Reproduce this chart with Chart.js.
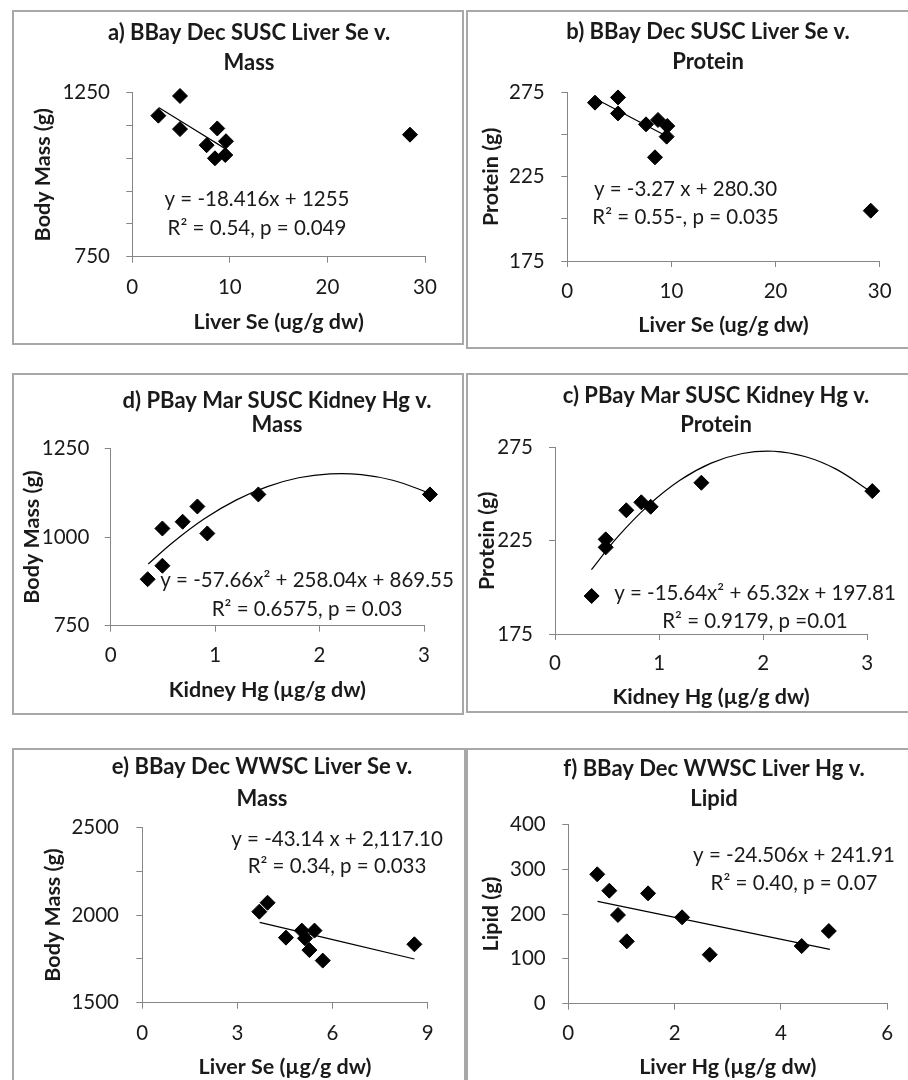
<!DOCTYPE html>
<html>
<head>
<meta charset="utf-8">
<script src="https://cdn.jsdelivr.net/npm/chart.js@4.4.1/dist/chart.umd.min.js"></script>
<style>
  html, body { margin: 0; padding: 0; background: #fff; overflow: hidden; }
  #wrap { position: relative; width: 908px; height: 1080px; overflow: hidden; }
  .panel { position: absolute; box-sizing: border-box; border: 2px solid #a8a8a8; }
  canvas { position: absolute; }
</style>
</head>
<body>
<div id="wrap"></div>
<script>
// a) BBay Dec SUSC, liver Se vs body mass
const aLiverSe  = [2.67, 4.89, 4.89, 7.62, 8.71, 8.47, 9.60, 9.53, 28.46];
const aBodyMass = [1180, 1240, 1139, 1090, 1141, 1050, 1102, 1060, 1122];
const aFitX = [2.7, 9.6];
const aFitY = [1205, 1078];

// b) BBay Dec SUSC, liver Se vs protein
const bLiverSe = [2.66, 4.87, 4.87, 7.56, 8.71, 9.60, 9.54, 8.42, 29.14];
const bProtein = [269.1, 272.2, 262.7, 256.2, 258.8, 255.2, 248.9, 236.6, 204.9];
const bFitX = [2.66, 9.6];
const bFitY = [271.5, 249];

// d) PBay Mar SUSC, kidney Hg vs body mass
const dKidneyHg = [0.354, 0.495, 0.495, 0.689, 0.830, 0.925, 1.414, 3.057];
const dBodyMass = [881, 919, 1024, 1043, 1086, 1010, 1120, 1120];
const dFitX = [0.36, 0.6, 0.9, 1.2, 1.5, 1.8, 2.1, 2.4, 2.7, 3.06];
const dFitY = [924, 986, 1052, 1104, 1142, 1167, 1178, 1176, 1160, 1123];

// c) PBay Mar SUSC, kidney Hg vs protein
const cKidneyHg = [0.352, 0.487, 0.487, 0.685, 0.829, 0.919, 1.406, 3.048];
const cProtein = [195.4, 225.8, 221.5, 241.4, 245.7, 243.3, 256.2, 251.7];
const cFitX = [0.35, 0.6, 0.9, 1.2, 1.5, 1.8, 2.1, 2.4, 2.7, 3.03];
const cFitY = [209.5, 227.0, 244.2, 257.5, 266.7, 271.9, 273.1, 270.3, 263.5, 251.5];

// e) BBay Dec WWSC, liver Se vs body mass
const eLiverSe  = [3.69, 3.95, 4.53, 5.03, 5.13, 5.27, 5.43, 5.69, 8.58];
const eBodyMass = [2019, 2070, 1871, 1911, 1867, 1800, 1911, 1740, 1833];
const eFitX = [3.7, 8.58];
const eFitY = [1958, 1749];

// f) BBay Dec WWSC, liver Hg vs lipid
const fLiverHg = [0.545, 0.771, 0.934, 1.10, 1.50, 2.14, 2.66, 4.39, 4.90];
const fLipid   = [288.5, 252, 197.8, 139, 246, 192.6, 109.3, 128.6, 162];
const fFitX = [0.55, 4.92];
const fFitY = [228, 121];

// texts
const aTitle = ['a) BBay Dec SUSC Liver Se v.', 'Mass'];
const bTitle = ['b) BBay Dec SUSC Liver Se v.', 'Protein'];
const dTitle = ['d) PBay Mar SUSC Kidney Hg v.', 'Mass'];
const cTitle = ['c) PBay Mar SUSC Kidney Hg v.', 'Protein'];
const eTitle = ['e) BBay Dec WWSC Liver Se v.', 'Mass'];
const fTitle = ['f) BBay Dec WWSC Liver Hg v.', 'Lipid'];

const aEq = ['y = -18.416x + 1255', 'R² = 0.54, p = 0.049'];
const bEq = ['y = -3.27 x + 280.30', 'R² = 0.55-, p = 0.035'];
const dEq = ['y = -57.66x² + 258.04x + 869.55', 'R² = 0.6575, p = 0.03'];
const cEq = ['y = -15.64x² + 65.32x + 197.81', 'R² = 0.9179, p =0.01'];
const eEq = ['y = -43.14 x + 2,117.10', 'R² = 0.34, p = 0.033'];
const fEq = ['y = -24.506x + 241.91', 'R² = 0.40, p = 0.07'];

// axis ranges: [min, max, step, label every]
const aXTicks = [0, 30, 10, 10];   const aYTicks = [750, 1250, 50, 250];
const bXTicks = [0, 30, 10, 10];   const bYTicks = [175, 275, 25, 50];
const dXTicks = [0, 3, 1, 1];      const dYTicks = [750, 1250, 250, 250];
const cXTicks = [0, 3, 1, 1];      const cYTicks = [175, 275, 50, 50];
const eXTicks = [0, 9, 3, 3];      const eYTicks = [1500, 2500, 250, 500];
const fXTicks = [0, 6, 2, 2];      const fYTicks = [0, 400, 100, 100];

const FONT = 'Lato, "Open Sans", sans-serif';
const AXIS = '#868686';
const INK = '#1a1a1a';
const TITLE_SIZE = 22, AXIS_SIZE = 21.5, TICK_SIZE = 20.5, EQ_SIZE = 20.5;

// equation text, anchored in data units through the scales
const eqPlugin = {
  id: 'eqText',
  afterDatasetsDraw(chart, args, o) {
    const ctx = chart.ctx;
    const px = chart.scales.x.getPixelForValue(o.x);
    const py = chart.scales.y.getPixelForValue(o.y);
    ctx.save();
    ctx.font = o.size + 'px ' + FONT;
    ctx.fillStyle = INK;
    ctx.textAlign = 'center';
    ctx.textBaseline = 'middle';
    o.lines.forEach((t, i) => ctx.fillText(t, px, py + i * o.gap));
    ctx.restore();
  }
};

function panel(p) {
  const wrap = document.getElementById('wrap');
  const box = document.createElement('div');
  box.className = 'panel';
  box.style.left = p.box[0] + 'px';
  box.style.top = p.box[1] + 'px';
  box.style.width = (p.box[2] - p.box[0]) + 'px';
  box.style.height = (p.box[3] - p.box[1]) + 'px';
  wrap.appendChild(box);

  const cl = p.box[0] + 2, ct = p.box[1] + 2;
  const W = Math.round(2 * (p.titleCx - cl));
  const H = p.box[3] - 2 - ct;
  const cv = document.createElement('canvas');
  cv.width = W; cv.height = H;
  cv.style.left = cl + 'px'; cv.style.top = ct + 'px';
  cv.style.width = W + 'px'; cv.style.height = H + 'px';
  wrap.appendChild(cv);

  const axLh = AXIS_SIZE * 1.2, tickLh = TICK_SIZE * 1.2;
  const tPadTop = p.titleY - ct - p.titleGap / 2;
  const tPadBottom = p.area[1] - ct - tPadTop - 2 * p.titleGap;

  new Chart(cv, {
    type: 'scatter',
    data: {
      datasets: [
        { data: p.xs.map((x, i) => ({ x: x, y: p.ys[i] })),
          pointStyle: 'rectRot', pointRadius: 7.5, backgroundColor: '#000',
          borderColor: '#000', borderWidth: 1, clip: false, xAxisID: 'x', yAxisID: 'y' },
        { data: p.fx.map((x, i) => ({ x: x, y: p.fy[i] })),
          showLine: true, pointRadius: 0, borderColor: '#000', borderWidth: 1.2,
          tension: 0.4, clip: false, xAxisID: 'x', yAxisID: 'y' }
      ]
    },
    options: {
      responsive: false,
      animation: false,
      layout: { padding: 0 },
      plugins: {
        legend: { display: false },
        tooltip: { enabled: false },
        title: {
          display: true, text: p.title, color: INK,
          font: { family: FONT, size: TITLE_SIZE, weight: 'bold', lineHeight: p.titleGap / TITLE_SIZE },
          padding: { top: tPadTop, bottom: tPadBottom }
        },
        eqText: { lines: p.eq, x: p.eqAt[0], y: p.eqAt[1], gap: p.eqGap, size: EQ_SIZE }
      },
      scales: {
        x: {
          type: 'linear', position: 'bottom',
          min: p.xt[0], max: p.xt[1],
          afterFit: s => { s.height = ct + H - p.area[3]; },
          ticks: { stepSize: p.xt[2], color: INK, font: { family: FONT, size: TICK_SIZE },
                   padding: p.xLabY - p.area[3] - 6 - tickLh / 2, maxRotation: 0,
                   callback: v => (Math.abs(v / p.xt[3] - Math.round(v / p.xt[3])) < 1e-6 ? String(v) : '') },
          grid: { drawOnChartArea: false, drawTicks: true, tickLength: 6, color: AXIS },
          border: { display: true, color: AXIS },
          title: { display: true, text: p.xTitle, color: INK,
                   font: { family: FONT, size: AXIS_SIZE, weight: 'bold' },
                   padding: { top: 0, bottom: ct + H - p.xTitleY - axLh / 2 } }
        },
        y: {
          type: 'linear', position: 'left',
          min: p.yt[0], max: p.yt[1],
          afterFit: s => { s.width = p.area[0] - cl; },
          ticks: { stepSize: p.yt[2], color: INK, font: { family: FONT, size: TICK_SIZE },
                   padding: p.area[0] - 6 - p.yLabR,
                   callback: v => ((v - p.yt[0]) % p.yt[3] === 0 ? String(v) : '') },
          grid: { drawOnChartArea: false, drawTicks: true, tickLength: 6, color: AXIS },
          border: { display: true, color: AXIS },
          title: { display: true, text: p.yTitle, color: INK,
                   font: { family: FONT, size: AXIS_SIZE, weight: 'bold' },
                   padding: { top: p.yTitleX - cl - axLh / 2, bottom: 0 } }
        },
        // empty right-hand box, only to keep the panel title centred like the original
        pad: {
          type: 'linear', position: 'right', axis: 'y', display: true,
          afterFit: s => { s.width = cl + W - p.area[2]; },
          ticks: { display: false }, grid: { display: false, drawTicks: false },
          border: { display: false }
        }
      }
    },
    plugins: [eqPlugin]
  });
}

panel({ box: [12, 10, 464, 345], area: [132.3, 92.7, 425, 256.7],
  titleCx: 249, titleY: 33, titleGap: 30, yTitleX: 43, xTitleY: 322, yLabR: 110, xLabY: 287,
  xs: aLiverSe, ys: aBodyMass, fx: aFitX, fy: aFitY, xt: aXTicks, yt: aYTicks,
  title: aTitle, xTitle: 'Liver Se (ug/g dw)', yTitle: 'Body Mass (g)',
  eq: aEq, eqAt: [12.78, 926], eqGap: 29 });

panel({ box: [466, 10, 922, 349], area: [567.3, 92.7, 879.7, 261],
  titleCx: 708, titleY: 32, titleGap: 30, yTitleX: 490.7, xTitleY: 325, yLabR: 544.7, xLabY: 291.7,
  xs: bLiverSe, ys: bProtein, fx: bFitX, fy: bFitY, xt: bXTicks, yt: bYTicks,
  title: bTitle, xTitle: 'Liver Se (ug/g dw)', yTitle: 'Protein (g)',
  eq: bEq, eqAt: [11.35, 217.8], eqGap: 28 });

panel({ box: [12, 373, 464, 715], area: [110.7, 448.3, 424, 625.7],
  titleCx: 277, titleY: 401, titleGap: 24, yTitleX: 31.7, xTitleY: 690, yLabR: 89.3, xLabY: 655,
  xs: dKidneyHg, ys: dBodyMass, fx: dFitX, fy: dFitY, xt: dXTicks, yt: dYTicks,
  title: dTitle, xTitle: 'Kidney Hg (µg/g dw)', yTitle: 'Body Mass (g)',
  eq: dEq, eqAt: [1.88, 877], eqGap: 28.6 });

panel({ box: [466, 373, 922, 713], area: [555, 447.7, 867.3, 634],
  titleCx: 716, titleY: 396, titleGap: 28.7, yTitleX: 487.3, xTitleY: 696.7, yLabR: 533, xLabY: 663.3,
  xs: cKidneyHg, ys: cProtein, fx: cFitX, fy: cFitY, xt: cXTicks, yt: cYTicks,
  title: cTitle, xTitle: 'Kidney Hg (µg/g dw)', yTitle: 'Protein (g)',
  eq: cEq, eqAt: [1.921, 196.8], eqGap: 28.4 });

panel({ box: [12, 748, 466, 1090], area: [142.3, 827.3, 427.7, 1002.7],
  titleCx: 262, titleY: 767, titleGap: 32, yTitleX: 53.3, xTitleY: 1066.7, yLabR: 119, xLabY: 1033.3,
  xs: eLiverSe, ys: eBodyMass, fx: eFitX, fy: eFitY, xt: eXTicks, yt: eYTicks,
  title: eTitle, xTitle: 'Liver Se (µg/g dw)', yTitle: 'Body Mass (g)',
  eq: eEq, eqAt: [6.14, 2433], eqGap: 27.7 });

panel({ box: [466, 748, 922, 1090], area: [568.3, 824.3, 887.3, 1003.7],
  titleCx: 714, titleY: 769, titleGap: 30, yTitleX: 491.3, xTitleY: 1066.7, yLabR: 545.7, xLabY: 1033.3,
  xs: fLiverHg, ys: fLipid, fx: fFitX, fy: fFitY, xt: fXTicks, yt: fYTicks,
  title: fTitle, xTitle: 'Liver Hg (µg/g dw)', yTitle: 'Lipid (g)',
  eq: fEq, eqAt: [4.245, 331.5], eqGap: 28 });
</script>
</body>
</html>
